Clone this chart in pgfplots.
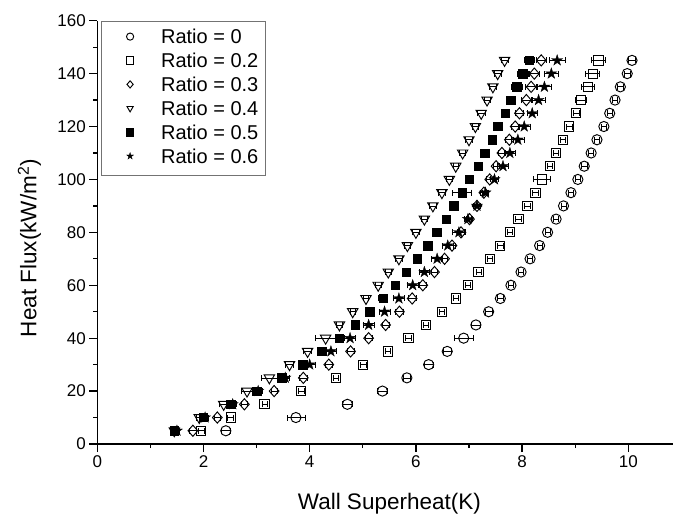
\documentclass[border=0pt]{standalone}
\usepackage{fontspec}
\setmainfont{Liberation Sans}
\usepackage{pgfplots}
\usepackage{pgfplotstable}
\pgfplotsset{compat=1.18}
\usetikzlibrary{plotmarks}

\pgfdeclareplotmark{fstar}{%
  \pgfpathmoveto{\pgfqpoint{0pt}{\pgfplotmarksize}}%
  \pgfpathlineto{\pgfqpoint{-0.2245\pgfplotmarksize}{0.309\pgfplotmarksize}}%
  \pgfpathlineto{\pgfqpoint{-0.951\pgfplotmarksize}{0.309\pgfplotmarksize}}%
  \pgfpathlineto{\pgfqpoint{-0.363\pgfplotmarksize}{-0.118\pgfplotmarksize}}%
  \pgfpathlineto{\pgfqpoint{-0.588\pgfplotmarksize}{-0.809\pgfplotmarksize}}%
  \pgfpathlineto{\pgfqpoint{0pt}{-0.382\pgfplotmarksize}}%
  \pgfpathlineto{\pgfqpoint{0.588\pgfplotmarksize}{-0.809\pgfplotmarksize}}%
  \pgfpathlineto{\pgfqpoint{0.363\pgfplotmarksize}{-0.118\pgfplotmarksize}}%
  \pgfpathlineto{\pgfqpoint{0.951\pgfplotmarksize}{0.309\pgfplotmarksize}}%
  \pgfpathlineto{\pgfqpoint{0.2245\pgfplotmarksize}{0.309\pgfplotmarksize}}%
  \pgfpathclose
  \pgfusepathqfillstroke}

\pgfplotstableread{
x y e
2.42 5 0.08
3.74 10 0.17
4.71 15 0.10
5.37 20 0.10
5.83 25 0.07
6.24 30 0.08
6.59 35 0.07
6.90 40 0.18
7.13 45 0.08
7.37 50 0.07
7.59 55 0.05
7.79 60 0.05
7.98 65 0.05
8.15 70 0.05
8.33 75 0.05
8.48 80 0.05
8.64 85 0.05
8.78 90 0.05
8.92 95 0.05
9.05 100 0.05
9.17 105 0.05
9.30 110 0.05
9.41 115 0.05
9.54 120 0.05
9.65 125 0.05
9.75 130 0.05
9.85 135 0.05
9.98 140 0.05
10.07 145 0.06
}\tA

\pgfplotstableread{
x y e
1.96 5 0.06
2.51 10 0.06
3.15 15 0.05
3.84 20 0.05
4.49 25 0.05
5.01 30 0.05
5.47 35 0.05
5.86 40 0.05
6.19 45 0.05
6.49 50 0.05
6.75 55 0.05
6.98 60 0.05
7.18 65 0.05
7.39 70 0.05
7.59 75 0.05
7.77 80 0.05
7.93 85 0.05
8.10 90 0.05
8.25 95 0.05
8.38 100 0.16
8.52 105 0.05
8.64 110 0.05
8.77 115 0.05
8.89 120 0.06
9.02 125 0.06
9.11 130 0.10
9.24 135 0.12
9.33 140 0.13
9.44 145 0.13
}\tB

\pgfplotstableread{
x y e
1.80 5 0.06
2.26 10 0.06
2.77 15 0.06
3.33 20 0.06
3.88 25 0.07
4.36 30 0.07
4.77 35 0.07
5.11 40 0.07
5.43 45 0.07
5.69 50 0.07
5.93 55 0.07
6.13 60 0.07
6.35 65 0.06
6.54 70 0.06
6.68 75 0.06
6.85 80 0.06
7.01 85 0.06
7.15 90 0.06
7.28 95 0.06
7.39 100 0.06
7.51 105 0.06
7.62 110 0.07
7.76 115 0.08
7.87 120 0.08
7.95 125 0.08
8.08 130 0.09
8.17 135 0.10
8.23 140 0.10
8.36 145 0.10
}\tC

\pgfplotstableread{
x y e
1.45 5 0.05
1.92 10 0.06
2.38 15 0.08
2.82 20 0.10
3.24 25 0.15
3.62 30 0.08
3.96 35 0.08
4.30 40 0.20
4.56 45 0.05
4.81 50 0.05
5.06 55 0.05
5.29 60 0.05
5.48 65 0.05
5.68 70 0.06
5.84 75 0.06
6.00 80 0.06
6.16 85 0.06
6.32 90 0.07
6.49 95 0.07
6.63 100 0.06
6.75 105 0.05
6.88 110 0.06
7.00 115 0.06
7.12 120 0.06
7.23 125 0.07
7.34 130 0.06
7.45 135 0.06
7.54 140 0.06
7.67 145 0.07
}\tD

\pgfplotstableread{
x y e
1.45 5 0.06
2.00 10 0.05
2.51 15 0.05
3.00 20 0.05
3.47 25 0.08
3.87 30 0.08
4.23 35 0.08
4.56 40 0.08
4.86 45 0.05
5.13 50 0.07
5.38 55 0.08
5.61 60 0.05
5.82 65 0.05
6.02 70 0.05
6.22 75 0.05
6.39 80 0.05
6.57 85 0.05
6.71 90 0.05
6.87 95 0.18
7.01 100 0.05
7.17 105 0.05
7.30 110 0.05
7.44 115 0.05
7.54 120 0.05
7.68 125 0.05
7.79 130 0.06
7.90 135 0.10
8.01 140 0.10
8.14 145 0.10
}\tE

\pgfplotstableread{
x y e
1.50 5 0.05
2.03 10 0.06
2.55 15 0.06
3.03 20 0.07
3.54 25 0.08
4.00 30 0.10
4.40 35 0.10
4.76 40 0.10
5.11 45 0.10
5.41 50 0.10
5.68 55 0.10
5.94 60 0.10
6.16 65 0.10
6.40 70 0.10
6.60 75 0.10
6.81 80 0.12
6.98 85 0.06
7.15 90 0.06
7.31 95 0.06
7.48 100 0.07
7.64 105 0.10
7.77 110 0.10
7.92 115 0.12
8.04 120 0.12
8.19 125 0.10
8.31 130 0.12
8.42 135 0.13
8.55 140 0.14
8.66 145 0.15
}\tF

\begin{document}
\begin{tikzpicture}
\begin{axis}[
  at={(0,0)}, anchor=south west, scale only axis,
  width=584.1pt, height=423.3pt,
  xmin=0, xmax=11, ymin=0, ymax=160,
  axis lines=left,
  axis line style={-, line width=1.5pt, black},
  xtick={0,2,...,10}, ytick={0,20,...,160},
  minor x tick num=1, minor y tick num=1,
  tick align=outside, major tick length=8pt, minor tick length=4pt,
  every tick/.style={black, line width=1.3pt},
  /pgf/number format/assume math mode=true,
  tick label style={font=\fontsize{17}{17}\selectfont},
  xlabel={Wall Superheat(K)},
  ylabel={Heat Flux(kW/m\textsuperscript{2})},
  label style={font=\fontsize{22.5}{24}\selectfont},
  xlabel style={at={(axis description cs:0.5,-0.1559)}, anchor=base},
  ylabel style={at={(axis description cs:-0.1041,0.463)}, anchor=base},
  clip=false,
  legend style={at={(axis description cs:0,1)}, anchor=north west, xshift=3.4pt,
    draw=black!55, line width=0.8pt, fill=white,
    inner xsep=7pt, inner ysep=7.5pt,
    font=\fontsize{20}{24}\selectfont, row sep=4.4pt,
    nodes={inner sep=0pt, text height=15pt, text depth=4.5pt, anchor=base west}},
  legend cell align=left,
  legend image code/.code={\path[draw=none, fill=none] (-22pt,0pt) -- (31pt,0pt);
    \draw[#1, mark size=3.6pt, line width=0.6pt] plot coordinates {(0pt,7pt)};},
  error bars/x dir=both, error bars/x explicit,
  error bars/error bar style={line width=0.7pt, black},
  error bars/error mark options={rotate=90, mark size=3pt, line width=0.7pt, black},
]
\addplot[only marks, mark=o, mark size=5.1pt, mark options={draw=black, line width=0.95pt}]
  table[x=x, y=y, x error=e] {\tA};
\addlegendentry{Ratio = 0}
\addplot[only marks, mark=square, mark size=4.6pt, mark options={draw=black, line width=0.95pt}]
  table[x=x, y=y, x error=e] {\tB};
\addlegendentry{Ratio = 0.2}
\addplot[only marks, mark=diamond, mark size=5.6pt, mark options={draw=black, line width=0.95pt, xscale=1.15}]
  table[x=x, y=y, x error=e] {\tC};
\addlegendentry{Ratio = 0.3}
\addplot[only marks, mark=triangle, mark size=6pt, mark options={draw=black, line width=0.95pt, rotate=180}]
  table[x=x, y=y, x error=e] {\tD};
\addlegendentry{Ratio = 0.4}
\addplot[only marks, mark=square*, mark size=4.2pt, mark options={draw=black, fill=black, line width=0.5pt}]
  table[x=x, y=y, x error=e] {\tE};
\addlegendentry{Ratio = 0.5}
\addplot[only marks, mark=fstar, mark size=5.8pt, mark options={draw=black, fill=black, line width=0.3pt}]
  table[x=x, y=y, x error=e] {\tF};
\addlegendentry{Ratio = 0.6}
\end{axis}
\pgfresetboundingbox
\path[use as bounding box] (-97.3pt,-71pt) rectangle (575.7pt,444pt);
\end{tikzpicture}
\end{document}
